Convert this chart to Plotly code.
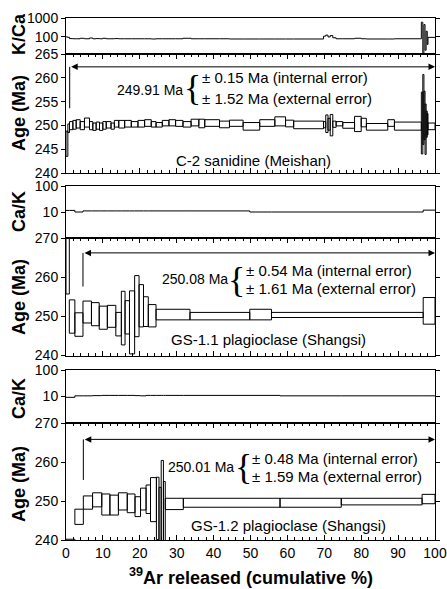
import plotly.graph_objects as go

# ------------------------------------------------------------------ data
# C-2 sanidine (Meishan)
c2_edges = [0, 0.5, 0.95, 1.86, 2.76, 3.84, 5.0, 6.37, 7.27, 8.17, 9.08, 9.98, 10.9, 12.2, 13.1,
            14.3, 15.9, 17.7, 19.5, 21.3, 23.1, 24.4, 26.1, 27.9, 29.7, 31.7, 33.9, 36.0, 37.6,
            41.6, 44.3, 48.0, 52.5, 56.6, 59.5, 61.7, 69.8, 70.4, 71.0, 71.6, 72.3, 73.2, 75.0,
            78.2, 80.0, 81.4, 87.2, 89.0, 96.3, 96.7, 97.0, 97.3, 97.6, 97.9, 98.1, 100]
c2_age_min = [243.5, 248.5, 249.1, 249.2, 249.45, 249.1, 249.65, 249.1, 248.95, 249.2,
              248.95, 249.2, 249.45, 249.2, 249.65, 249.45, 249.65, 249.65, 249.65, 249.8,
              249.65, 249.65, 249.9, 249.9, 249.8, 249.65, 249.9, 249.5, 249.8, 249.5,
              249.8, 249.0, 249.8, 249.9, 249.7, 249.3, 249.5, 248.5, 249.0, 247.8,
              249.6, 249.9, 249.4, 248.7, 249.7, 249.0, 249.8, 249.0, 244.0, 246.0,
              247.0, 243.9, 247.5, 248.0, 249.1]
c2_age_max = [248.8, 250.3, 250.8, 251.05, 251.2, 250.8, 251.55, 250.8, 250.5, 250.7,
              250.5, 250.8, 250.8, 250.5, 251.05, 251.05, 251.05, 250.8, 251.05, 251.2,
              250.8, 250.6, 251.05, 251.2, 251.05, 250.8, 251.3, 251.3, 251.2, 250.9,
              251.1, 250.6, 251.2, 251.8, 251.1, 250.9, 250.8, 252.2, 251.5, 252.3,
              250.9, 250.8, 250.6, 251.9, 251.5, 250.4, 251.2, 250.7, 257.0, 260.7,
              257.2, 254.5, 253.0, 252.5, 250.5]
c2_kca = [100, 95, 82, 80, 80, 85, 80, 88, 80, 82,
          80, 85, 80, 80, 82, 80, 80, 80, 80, 80,
          78, 80, 80, 80, 80, 85, 80, 80, 80, 80,
          78, 78, 78, 78, 78, 78, 110, 125, 100, 118,
          90, 80, 80, 85, 80, 78, 78, 80, 600, 12,
          450, 20, 200, 40, 95]

# GS-1.1 plagioclase (Shangsi)
gs11_edges = [0, 0.9, 2.4, 4.6, 6.9, 9.0, 11.2, 13.5, 15.0, 16.0, 17.2, 18.6, 19.8, 21.0,
              22.3, 24.4, 33.6, 49.8, 55.7, 96.8, 100]
gs11_age_min = [255.7, 245.7, 244.9, 248.3, 247.6, 246.7, 247.2, 245.0, 242.7, 245.5,
                240.4, 244.8, 247.3, 247.4, 247.3, 249.1, 249.1, 249.1, 249.7, 248.0]
gs11_age_max = [278.0, 254.2, 250.9, 253.9, 253.5, 252.6, 252.8, 251.0, 256.4, 254.0,
                256.5, 260.4, 258.1, 255.0, 253.0, 251.8, 251.0, 251.8, 251.0, 254.8]
gs11_cak = [11.5, 11.5, 10.0, 11.0, 11.0, 11.0, 11.0, 11.0, 11.0, 11.0,
            11.0, 11.0, 11.0, 11.0, 11.0, 11.0, 11.0, 10.0, 10.0, 11.8]

# GS-1.2 plagioclase (Shangsi)
gs12_edges = [0, 2.4, 4.7, 7.2, 9.7, 11.9, 14.2, 16.6, 18.7, 20.2, 21.7, 22.9, 24.5, 25.2,
              25.8, 26.4, 26.9, 31.8, 58.0, 74.6, 96.5, 100]
gs12_age_min = [232.0, 244.0, 247.9, 248.5, 246.4, 246.4, 247.7, 247.0, 246.0, 247.7,
                246.8, 244.7, 240.1, 236.0, 236.0, 236.0, 247.8, 248.4, 248.4, 249.0, 249.3]
gs12_age_max = [240.2, 247.9, 251.3, 252.1, 251.8, 251.5, 252.1, 251.8, 251.1, 253.3,
                254.1, 256.0, 256.1, 253.5, 260.4, 255.0, 250.7, 250.7, 250.7, 250.7, 251.7]
gs12_cak = [9.3, 10.6, 10.6, 10.8, 11.0, 11.0, 11.0, 11.0, 10.8, 10.6,
            11.0, 11.0, 11.0, 11.0, 11.0, 11.0, 11.0, 11.0, 10.6, 10.6, 10.6]

# plateau ages and arrows
plateau_age = ["249.91", "250.08", "250.01"]
internal_err = ["0.15", "0.54", "0.48"]
external_err = ["1.52", "1.61", "1.59"]
plateau_start = [1.0, 4.6, 4.7]
plateau_end = [100, 100, 100]
arrow_level = [262.3, 266.2, 265.8]
marker_bottom = [253.6, 257.6, 255.4]
sample_names = ["C-2 sanidine (Meishan)", "GS-1.1 plagioclase (Shangsi)",
                "GS-1.2 plagioclase (Shangsi)"]

x_ticks = [0, 10, 20, 30, 40, 50, 60, 70, 80, 90, 100]

# ------------------------------------------------------------------ helpers
FONT = "Liberation Sans, Arial, Helvetica, sans-serif"
BLACK = "black"


def box_path(edges, lo, hi):
    xs, ys = [], []
    for i in range(len(lo)):
        x0, x1 = edges[i], edges[i + 1]
        xs += [x0, x1, x1, x0, x0, None]
        ys += [lo[i], lo[i], hi[i], hi[i], lo[i], None]
    return xs, ys


def step_path(edges, vals):
    return list(edges), list(vals) + [vals[-1]]


fig = go.Figure()

# ratio panels
for xa, ya, edges, vals in [("x", "y", c2_edges, c2_kca),
                            ("x3", "y3", gs11_edges, gs11_cak),
                            ("x5", "y5", gs12_edges, gs12_cak)]:
    sx, sy = step_path(edges, vals)
    fig.add_trace(go.Scatter(x=sx, y=sy, mode="lines", line=dict(color=BLACK, width=1, shape="hv"),
                             xaxis=xa, yaxis=ya, showlegend=False, hoverinfo="skip"))

# age spectra
age_sets = [("x2", "y2", c2_edges, c2_age_min, c2_age_max),
            ("x4", "y4", gs11_edges, gs11_age_min, gs11_age_max),
            ("x6", "y6", gs12_edges, gs12_age_min, gs12_age_max)]
for k, (xa, ya, edges, lo, hi) in enumerate(age_sets):
    bx, by = box_path(edges, lo, hi)
    fig.add_trace(go.Scatter(x=bx, y=by, mode="lines", line=dict(color=BLACK, width=1),
                             xaxis=xa, yaxis=ya, showlegend=False, hoverinfo="skip"))
    # plateau start marker
    fig.add_trace(go.Scatter(x=[plateau_start[k], plateau_start[k]],
                             y=[arrow_level[k], marker_bottom[k]], mode="lines",
                             line=dict(color=BLACK, width=1),
                             xaxis=xa, yaxis=ya, showlegend=False, hoverinfo="skip"))

# ------------------------------------------------------------------ layout
PLOT_TOP, PLOT_BOTTOM = 18, 540
H = PLOT_BOTTOM - PLOT_TOP


def dom(top_px, bot_px):
    return [max(0.0, (PLOT_BOTTOM - bot_px) / H), min(1.0, (PLOT_BOTTOM - top_px) / H)]


domains = [dom(18, 54), dom(54, 173), dom(186, 238), dom(238, 355.5), dom(370, 423), dom(423, 540)]

tickfont = dict(family=FONT, size=14, color=BLACK)

layout = dict(
    width=447, height=589,
    margin=dict(l=66, r=12, t=18, b=49, autoexpand=False),
    paper_bgcolor="white", plot_bgcolor="white",
    font=dict(family=FONT, color=BLACK),
    showlegend=False,
)

for i in range(6):
    n = "" if i == 0 else str(i + 1)
    is_age = i in (1, 3, 5)
    xa = dict(domain=[0, 1], range=[0, 100], anchor="y" + n, showgrid=False, zeroline=False,
              showline=True, linecolor=BLACK, linewidth=1, mirror=True, automargin=False,
              showticklabels=(i == 5), tickfont=tickfont)
    if is_age:
        xa.update(tickvals=x_ticks, ticks="inside", ticklen=5, tickcolor=BLACK, mirror="ticks",
                  minor=dict(dtick=2, ticks="inside", ticklen=3, tickcolor=BLACK))
    else:
        xa.update(ticks="")
    ya = dict(domain=domains[i], anchor="x" + n, showgrid=False, zeroline=False,
              showline=True, linecolor=BLACK, linewidth=1, mirror="ticks", automargin=False,
              ticks="outside", ticklen=4, tickcolor=BLACK, tickfont=tickfont)
    if i == 0:
        ya.update(type="log", range=[1.1, 3], tickvals=[100, 1000], ticktext=["100", "1000"])
    elif i in (2, 4):
        ya.update(type="log", range=[0, 2], tickvals=[10, 100], ticktext=["10", "100"])
    elif i == 1:
        ya.update(range=[240, 265], tickvals=[240, 245, 250, 255, 260, 265])
    else:
        ya.update(range=[240, 270], tickvals=[240, 250, 260, 270])
    layout["xaxis" + n] = xa
    layout["yaxis" + n] = ya

fig.update_layout(**layout)

ann = []


def px2paper_y(y):
    return (PLOT_BOTTOM - y) / H


def px2paper_x(x):
    return (x - 66) / 369


# y-axis titles
for txt, ypx in [("K/Ca", 34), ("Age (Ma)", 113), ("Ca/K", 212), ("Age (Ma)", 297),
                 ("Ca/K", 399), ("Age (Ma)", 484)]:
    ann.append(dict(text="<b>%s</b>" % txt, xref="paper", yref="paper", x=px2paper_x(19),
                    y=px2paper_y(ypx), xanchor="center", yanchor="middle", textangle=-90,
                    showarrow=False, font=dict(family=FONT, size=18, color=BLACK)))

# x-axis title
ann.append(dict(text="<b><sup>39</sup>Ar released (cumulative %)</b>", xref="paper", yref="paper",
                x=px2paper_x(251), y=px2paper_y(576), xanchor="center", yanchor="middle",
                showarrow=False, font=dict(family=FONT, size=18, color=BLACK)))

# plateau text blocks (positions in panel data coordinates)
text_pos = [
    # value right edge x, value y, brace x, line1 y, line2 y, name x, name y
    (32.2, 257.5, 34.4, 260.0, 255.6, 50.7, 242.6),
    (44.4, 259.5, 46.3, 261.8, 257.0, 55.0, 244.0),
    (46.0, 258.7, 48.0, 261.0, 256.2, 60.2, 243.8),
]
refs = [("x2", "y2"), ("x4", "y4"), ("x6", "y6")]
tfont = dict(family=FONT, size=15, color=BLACK)
vfont = dict(family=FONT, size=14, color=BLACK)
for k in range(3):
    xr, yr = refs[k]
    vx, vy, bx_, l1, l2, nx, ny = text_pos[k]
    ann.append(dict(text="%s Ma" % plateau_age[k], xref=xr, yref=yr, x=vx, y=vy,
                    xanchor="right", yanchor="middle", showarrow=False, font=vfont))
    ann.append(dict(text="{", xref=xr, yref=yr, x=bx_, y=(l1 + l2) / 2, xanchor="center",
                    yanchor="middle", showarrow=False,
                    font=dict(family="Liberation Serif, Times New Roman, serif", size=36, color=BLACK)))
    ann.append(dict(text="± %s Ma (internal error)" % internal_err[k], xref=xr, yref=yr,
                    x=bx_ + 1.9, y=l1, xanchor="left", yanchor="middle", showarrow=False, font=tfont))
    ann.append(dict(text="± %s Ma (external error)" % external_err[k], xref=xr, yref=yr,
                    x=bx_ + 1.9, y=l2, xanchor="left", yanchor="middle", showarrow=False, font=tfont))
    ann.append(dict(text=sample_names[k], xref=xr, yref=yr, x=nx, y=ny, xanchor="center",
                    yanchor="middle", showarrow=False, font=tfont))
    # double-headed plateau arrow
    ann.append(dict(text="", xref=xr, yref=yr, axref=xr, ayref=yr,
                    x=plateau_end[k], y=arrow_level[k], ax=plateau_start[k], ay=arrow_level[k],
                    showarrow=True, arrowside="end+start", arrowhead=2, startarrowhead=2,
                    arrowsize=1.3, startarrowsize=1.3, arrowwidth=1, arrowcolor=BLACK))

fig.update_layout(annotations=ann)

# remove the default page margin so the 447x589 figure fills the window exactly
fig.write_html("out.html", config={"displayModeBar": False},
               post_script="document.body.style.margin='0';document.body.style.overflow='hidden';")
